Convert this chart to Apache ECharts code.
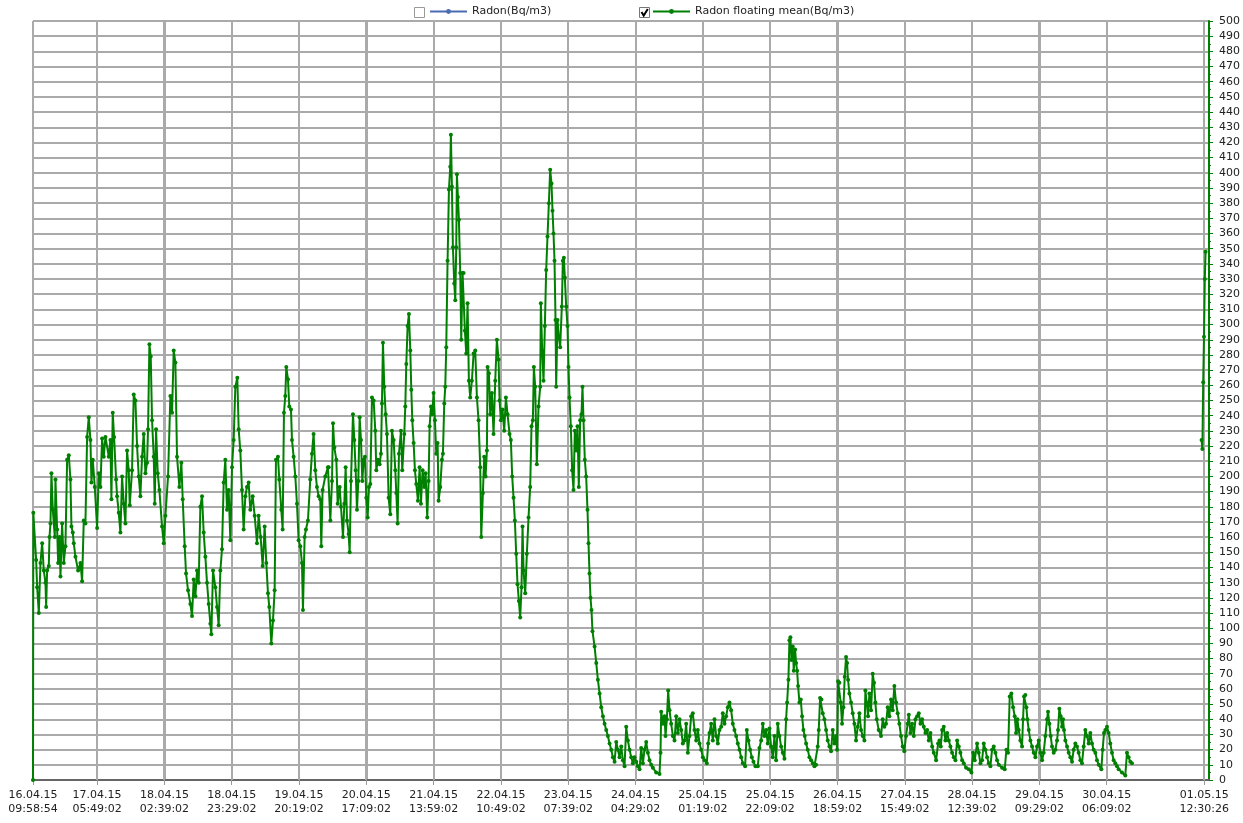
<!DOCTYPE html>
<html><head><meta charset="utf-8">
<script src="https://cdn.jsdelivr.net/npm/echarts@6/dist/echarts.min.js"></script>
<style>html,body{margin:0;padding:0;background:#fff}#chart{width:1243px;height:823px}</style>
</head><body><div id="chart"></div>
<script>
// x values: hours since 16.04.15 09:58:54
const tickHours = [0, 19.8356, 40.6689, 61.5022, 82.3356, 103.1689, 124.0022, 144.8356, 165.6689, 186.5022, 207.3356, 228.1689, 249.0022, 269.8356, 290.6689, 311.5022, 332.3356, 362.5256];
const tickLabels = ['16.04.15\n09:58:54','17.04.15\n05:49:02','18.04.15\n02:39:02','18.04.15\n23:29:02','19.04.15\n20:19:02','20.04.15\n17:09:02','21.04.15\n13:59:02','22.04.15\n10:49:02','23.04.15\n07:39:02','24.04.15\n04:29:02','25.04.15\n01:19:02','25.04.15\n22:09:02','26.04.15\n18:59:02','27.04.15\n15:49:02','28.04.15\n12:39:02','29.04.15\n09:29:02','30.04.15\n06:09:02','01.05.15\n12:30:26'];

const radonRaw = []; // Radon(Bq/m3) – not plotted (unchecked)

const meanApr16to20 = [[0,0],[0.1,176],[0.97,145],[1.28,127],[1.8,110],[2.31,143],[2.83,156],[3.34,138],[3.86,130],[4.07,114],[4.37,138],[4.89,141],[5.1,160],[5.41,169],[5.71,202],[6.13,178],[6.75,160],[6.95,198],[7.47,165],[7.78,143],[8.19,160],[8.5,134],[9.01,169],[9.53,143],[10.04,154],[10.56,211],[11.08,214],[11.59,198],[11.9,167],[12.31,163],[12.62,156],[13.14,147],[13.96,138],[14.68,143],[15.2,131],[15.71,171],[16.23,169],[16.75,226],[17.26,239],[17.78,224],[18.09,196],[18.5,211],[19.12,193],[19.84,166],[20.36,202],[20.87,193],[21.39,225],[21.9,213],[22.42,226],[23.45,213],[23.96,224],[24.27,185],[24.68,242],[25.1,226],[25.72,198],[26.02,187],[26.54,176],[27.06,163],[27.57,200],[28.09,182],[28.6,169],[29.12,217],[29.63,204],[29.94,181],[30.66,204],[31.18,254],[31.7,250],[32.21,220],[32.73,200],[33.24,187],[33.76,213],[34.27,228],[34.79,202],[35.3,209],[35.61,231],[36.03,287],[36.44,279],[36.85,237],[37.37,213],[37.68,182],[38.09,231],[38.61,202],[39.12,191],[39.94,167],[40.46,156],[40.98,174],[41.8,200],[42.52,253],[43.04,242],[43.55,283],[44.07,275],[44.58,213],[45.31,193],[45.92,209],[46.34,185],[46.95,154],[47.37,136],[47.99,125],[48.71,116],[49.22,108],[49.74,132],[50.26,121],[50.77,138],[51.29,130],[51.8,180],[52.32,187],[52.83,163],[53.35,147],[53.86,130],[54.38,116],[54.89,103],[55.2,96],[55.72,138],[56.44,127],[56.96,114],[57.47,102],[57.99,138],[58.5,152],[59.02,196],[59.53,211],[60.05,178],[60.56,191],[61.08,158],[61.6,206],[62.11,224],[62.63,259],[63.24,265],[63.66,231],[64.17,217],[64.69,191],[65.2,165],[65.72,187],[66.23,193],[66.75,196],[67.26,178],[67.99,187],[68.61,174],[69.33,156],[69.84,174],[70.46,160],[71.08,141],[71.7,167],[72.21,143],[72.73,123],[73.14,114],[73.76,90],[74.28,105],[74.79,125],[75.2,211],[75.82,213],[76.23,198],[76.85,178],[77.27,165],[77.68,242],[78.09,253],[78.4,272],[78.92,264],[79.33,246],[79.85,244],[80.16,224],[80.67,213],[81.19,200],[81.7,182],[82.22,158],[82.73,154],[83.25,143],[83.56,112],[84.07,160],[84.48,165],[85.1,171],[85.82,198],[86.34,215],[86.85,228],[87.37,204],[87.89,193],[88.4,187],[88.92,185],[89.23,154],[89.64,191],[90.46,200],[91.29,206]];

const meanApr20to23 = [[91.52,206],[92.03,171],[92.55,197],[92.86,235],[93.27,219],[93.89,211],[94.3,182],[94.92,193],[95.33,180],[95.95,160],[96.36,182],[96.77,206],[97.19,171],[97.7,162],[98.01,150],[98.42,197],[99.04,241],[99.46,224],[99.87,204],[100.28,178],[100.69,197],[101.1,239],[101.52,224],[101.93,197],[102.34,211],[102.75,213],[103.17,186],[103.58,173],[103.99,193],[104.4,195],[104.92,252],[105.44,250],[105.95,230],[106.26,204],[106.78,211],[107.29,208],[107.7,215],[108.01,248],[108.32,288],[108.73,259],[109.15,241],[109.56,228],[110.07,186],[110.59,175],[111.11,230],[111.62,224],[112.14,204],[112.45,189],[112.86,169],[113.27,215],[113.89,230],[114.3,204],[114.92,228],[115.23,246],[115.54,274],[115.95,299],[116.36,307],[116.78,283],[117.09,257],[117.4,237],[117.81,222],[118.22,204],[118.63,195],[119.15,184],[119.66,206],[120.08,182],[120.59,204],[121.11,193],[121.52,202],[122.03,173],[122.45,197],[122.76,233],[123.17,246],[123.58,241],[123.99,255],[124.41,237],[124.82,215],[125.23,222],[125.54,184],[126.06,193],[126.57,211],[126.88,215],[127.29,248],[127.6,259],[127.91,285],[128.32,342],[128.74,389],[129.15,404],[129.35,425],[129.66,391],[129.97,351],[130.39,327],[130.7,316],[131.0,351],[131.21,399],[131.52,384],[131.83,369],[132.24,334],[132.55,290],[132.96,334],[133.27,334],[133.68,296],[134.1,281],[134.51,314],[134.92,263],[135.33,252],[135.85,263],[136.37,281],[136.88,283],[137.4,252],[137.91,237],[138.43,206],[138.74,160],[139.25,189],[139.66,213],[140.08,200],[140.49,217],[140.7,272],[141.11,268],[141.52,241],[142.04,255],[142.55,228],[143.07,263],[143.58,290],[144.1,277],[144.41,250],[144.82,237],[145.33,244],[145.85,230],[146.37,252],[146.88,241],[147.5,228],[147.91,224],[148.32,200],[148.74,186],[149.15,171],[149.56,149],[149.97,129],[150.39,118],[150.8,107],[151.21,127],[151.52,167],[151.83,138],[152.35,123],[152.86,149],[153.38,173],[153.89,193],[154.3,233],[154.72,237],[155.03,272],[155.44,259],[155.95,208],[156.47,246],[156.99,259],[157.19,314],[157.6,283],[158.02,263],[158.43,299],[158.84,336],[159.25,358],[159.67,380],[160.08,402],[160.49,393],[160.8,375],[161.11,360],[161.42,342],[161.73,303],[161.93,259],[162.35,303],[162.76,292],[163.17,285],[163.69,312],[164.0,342],[164.31,344],[164.61,331],[165.03,312],[165.44,299],[165.75,272],[166.06,252],[166.47,233],[166.88,204],[167.3,191],[167.71,230],[168.12,217],[168.53,233],[168.94,193],[169.36,237],[169.77,241],[170.08,259],[170.39,237],[170.8,211],[171.21,200],[171.63,178],[171.94,156],[172.25,136],[172.56,120],[172.86,112],[173.17,98]];

const meanApr23to27 = [[173.82,88],[174.34,77],[174.85,66],[175.37,57],[175.88,48],[176.4,42],[176.91,37],[177.43,33],[177.94,29],[178.46,24],[178.97,20],[179.49,15],[180.01,12],[180.52,25],[181.04,20],[181.55,15],[182.07,22],[182.58,13],[183.1,9],[183.61,35],[184.13,26],[184.65,20],[185.16,15],[185.68,11],[186.19,15],[186.71,12],[187.22,9],[187.74,7],[188.25,21],[188.77,11],[189.28,20],[189.8,25],[190.32,18],[190.83,13],[191.35,10],[191.86,8],[192.89,5],[193.92,4],[194.23,18],[194.44,45],[194.96,37],[195.47,42],[195.78,29],[196.19,40],[196.6,59],[197.02,46],[197.53,37],[198.05,29],[198.56,26],[199.08,42],[199.59,31],[200.11,40],[200.63,33],[201.14,24],[201.66,26],[202.17,37],[202.69,18],[203.2,29],[203.72,42],[204.23,44],[204.75,33],[205.27,26],[205.78,33],[206.3,24],[206.81,20],[207.33,15],[207.84,13],[208.56,11],[208.98,24],[209.39,31],[209.9,37],[210.42,26],[210.94,40],[211.45,29],[211.97,24],[212.48,33],[213.0,35],[213.51,44],[214.03,37],[214.54,42],[215.06,48],[215.58,51],[216.09,46],[216.61,37],[217.12,33],[217.64,29],[218.15,24],[218.67,20],[219.18,15],[219.7,11],[220.42,9],[220.94,33],[221.45,26],[221.97,20],[222.48,15],[223.0,12],[223.62,9],[224.34,9],[224.85,21],[225.37,26],[225.89,37],[226.4,29],[226.92,33],[227.43,24],[227.95,34],[228.46,22],[228.98,15],[229.49,29],[230.01,13],[230.52,37],[231.04,29],[231.56,22],[232.07,18],[232.59,14],[233.1,40],[233.41,51],[233.82,66],[234.13,92],[234.44,94],[234.75,79],[235.16,88],[235.47,72],[235.89,86],[236.2,77],[236.51,72],[236.81,62],[237.23,51],[237.64,53],[238.05,42],[238.46,33],[238.87,29],[239.29,24],[239.8,20],[240.32,15],[240.83,13],[241.35,11],[241.87,9],[242.38,10],[242.9,22],[243.21,33],[243.62,54],[244.03,53],[244.44,44],[244.96,40],[245.47,33],[245.99,26],[246.51,22],[247.02,19],[247.54,33],[248.05,24],[248.57,29],[248.88,20],[249.19,65],[249.6,64],[250.01,51],[250.42,37],[250.84,48],[251.25,68],[251.66,81],[251.97,77],[252.28,66],[252.69,57],[253.21,51],[253.72,44],[254.24,37],[254.75,26],[255.27,35],[255.78,44],[256.3,33],[256.82,29],[257.33,26],[257.64,59],[258.05,51],[258.46,42],[258.88,57],[259.39,46],[259.91,70],[260.32,64],[260.73,51],[261.15,40],[261.76,33],[262.48,29],[263.0,40],[263.52,35],[264.03,37],[264.55,48],[265.06,42],[265.58,53],[266.09,46],[266.61,62],[267.13,51],[267.64,44],[268.16,37],[268.67,29],[269.19,22],[269.7,19],[270.22,29],[270.74,37]];

const meanApr27to30 = [[271.08,43],[271.59,31],[272.11,37],[272.63,29],[273.14,40],[273.66,42],[274.17,44],[274.69,37],[275.2,40],[275.72,35],[276.23,31],[276.75,33],[277.27,26],[277.78,31],[278.3,22],[278.81,18],[279.53,13],[280.15,24],[280.56,26],[280.98,22],[281.39,33],[281.9,35],[282.42,26],[282.94,31],[283.45,26],[283.97,22],[284.48,18],[285.0,15],[285.51,13],[286.03,26],[286.54,22],[287.06,18],[287.58,13],[288.09,11],[288.81,8],[289.64,7],[290.46,5],[290.98,18],[291.49,13],[292.21,24],[292.73,18],[293.25,11],[293.76,13],[294.28,24],[294.79,20],[295.31,15],[295.82,11],[296.34,9],[296.85,20],[297.37,22],[297.89,18],[298.4,13],[298.92,10],[299.95,8],[300.77,7],[301.29,20],[301.8,18],[302.32,55],[302.83,57],[303.35,48],[303.87,42],[304.28,31],[304.69,40],[305.1,33],[305.62,26],[306.13,22],[306.44,40],[306.75,55],[307.16,56],[307.47,48],[307.78,40],[308.2,33],[308.71,26],[309.23,22],[309.74,18],[310.26,15],[310.77,22],[311.29,26],[311.8,18],[312.32,13],[312.83,18],[313.35,29],[313.87,40],[314.17,45],[314.59,37],[315.0,29],[315.41,22],[315.93,18],[316.44,20],[316.96,26],[317.27,33],[317.68,47],[318.09,42],[318.51,35],[318.82,40],[319.12,33],[319.54,26],[320.05,22],[320.57,18],[321.08,15],[321.6,12],[322.11,20],[322.63,24],[323.14,22],[323.66,18],[324.18,13],[324.69,11],[325.21,22],[325.72,33],[326.24,29],[326.75,24],[327.27,31],[327.78,24],[328.3,20],[328.82,18],[329.33,13],[329.85,10],[330.67,7],[331.08,20],[331.5,31],[331.91,33],[332.42,35],[332.94,31],[333.45,24],[333.97,18],[334.49,13],[335.0,11],[335.52,9],[336.03,7],[337.06,5],[338.09,3],[338.61,18],[339.12,15],[339.64,12],[340.15,11]];

const meanMay01 = [[361.7,224],[361.95,218],[362.2,262],[362.45,292],[362.7,330],[362.95,348]];

const FONT = 'DejaVu Sans';
const Y_MIN = 0, Y_MAX = 500;
const meanData = [].concat(meanApr16to20, meanApr20to23, meanApr23to27, meanApr27to30, [[341, null]], meanMay01);

function labelFor(v) {
  let best = 0, d = Infinity;
  tickHours.forEach((t, i) => { const dd = Math.abs(t - v); if (dd < d) { d = dd; best = i; } });
  return tickLabels[best];
}

const checkboxGraphics = [
  {type: 'rect', shape: {x: 414.5, y: 7.5, width: 10, height: 10}, style: {fill: '#fff', stroke: '#999', lineWidth: 1}},
  {type: 'rect', shape: {x: 639.5, y: 7.5, width: 10, height: 10}, style: {fill: '#fff', stroke: '#777', lineWidth: 1}},
  {type: 'polyline', shape: {points: [[641.5, 12], [643.7, 15.5], [647.8, 9]]}, style: {stroke: '#000', lineWidth: 2, fill: null}}
];

const chart = echarts.init(document.getElementById('chart'));
chart.setOption({
  animation: false,
  backgroundColor: '#fff',
  textStyle: {fontFamily: FONT},
  grid: {left: 33, right: 32, top: 21, bottom: 43},
  legend: [
    {data: ['Radon(Bq/m3)'], left: 429, top: 6, padding: 0, itemWidth: 37, itemHeight: 6, selectedMode: false,
     textStyle: {fontFamily: FONT, fontSize: 11, color: '#222'}},
    {data: ['Radon floating mean(Bq/m3)'], left: 652, top: 6, padding: 0, itemWidth: 37, itemHeight: 6, selectedMode: false,
     textStyle: {fontFamily: FONT, fontSize: 11, color: '#222'}}
  ],
  graphic: checkboxGraphics,
  xAxis: [
    {type: 'value', min: 0, max: 364, position: 'bottom',
     axisLine: {show: true, onZero: false, lineStyle: {color: '#666', width: 2}},
     axisTick: {show: true, customValues: tickHours, length: 5, lineStyle: {color: '#999', width: 1}},
     axisLabel: {customValues: tickHours, formatter: (v) => labelFor(v), fontFamily: FONT, fontSize: 11, lineHeight: 14, color: '#222', margin: 8},
     splitLine: {show: true, lineStyle: {color: '#aaaaaa', width: 2}}}
  ],
  yAxis: [
    {type: 'value', position: 'right', min: Y_MIN, max: Y_MAX, interval: 10,
     axisLine: {show: true, onZero: false, lineStyle: {color: '#008000', width: 2}},
     axisTick: {show: true, length: 4, lineStyle: {color: '#008000'}},
     minorTick: {show: true, splitNumber: 2, length: 2, lineStyle: {color: '#008000'}},
     axisLabel: {margin: 10, color: '#222', fontSize: 11, fontFamily: FONT},
     splitLine: {show: true, lineStyle: {color: '#aaaaaa', width: 2}}}
  ],
  series: [
    {name: 'Radon(Bq/m3)', type: 'line', data: radonRaw,
     color: '#4a6cb3', symbol: 'circle', symbolSize: 3, lineStyle: {width: 2, color: '#4a6cb3'}, itemStyle: {color: '#4a6cb3'}},
    {name: 'Radon floating mean(Bq/m3)', type: 'line', data: meanData, zlevel: 1,
     color: '#008000', symbol: 'circle', symbolSize: 4, showSymbol: true, connectNulls: false,
     lineStyle: {width: 2, color: '#008000'}, itemStyle: {color: '#008000'}, z: 3}
  ]
});

// vertical time gridlines, placed through the x axis scale, on the same layer as (and below) the data line
const yTop = chart.convertToPixel({yAxisIndex: 0}, Y_MAX);
const yBot = chart.convertToPixel({yAxisIndex: 0}, Y_MIN);
const timeGridLines = tickHours.map(h => {
  const x = Math.round(chart.convertToPixel({xAxisIndex: 0}, h));
  return {type: 'line', zlevel: 1, z: 1, silent: true,
          shape: {x1: x, y1: yTop, x2: x, y2: yBot},
          style: {stroke: '#aaaaaa', lineWidth: 2}};
});
chart.setOption({graphic: checkboxGraphics.concat(timeGridLines)}, {replaceMerge: ['graphic']});
</script></body></html>
